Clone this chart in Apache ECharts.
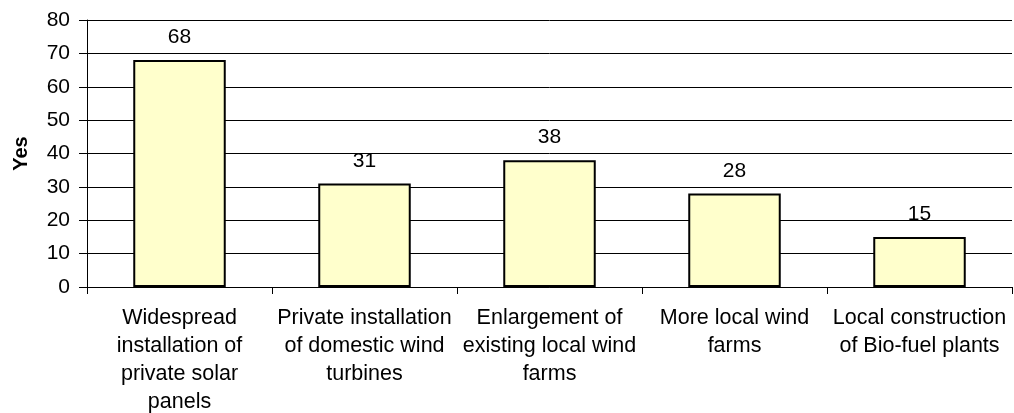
<!DOCTYPE html>
<html>
<head>
<meta charset="utf-8">
<script src="https://cdn.jsdelivr.net/npm/echarts@6/dist/echarts.min.js"></script>
<style>
html,body{margin:0;padding:0;background:#fff;}
#chart{width:1014px;height:413px;}
</style>
</head>
<body>
<div id="chart"></div>
<script>
const categories = [
  "Widespread\ninstallation of\nprivate solar\npanels",
  "Private installation\nof domestic wind\nturbines",
  "Enlargement of\nexisting local wind\nfarms",
  "More local wind\nfarms",
  "Local construction\nof Bio-fuel plants"
];
const yesValues = [68, 31, 38, 28, 15];
const yTicks = { min: 0, max: 80, interval: 10 };
const yAxisTitle = "Yes";

const FONT = "'Liberation Sans', Arial, sans-serif";
const chart = echarts.init(document.getElementById('chart'), null, { renderer: 'canvas' });
chart.setOption({
  animation: false,
  backgroundColor: '#ffffff',
  grid: { left: 87, right: 2, top: 20, bottom: 126, containLabel: false, outerBoundsMode: 'none' },
  xAxis: {
    type: 'category',
    data: categories,
    boundaryGap: true,
    axisLine: { show: true, lineStyle: { color: '#000', width: 1 } },
    axisTick: { show: true, length: 7, alignWithLabel: false, lineStyle: { color: '#000' } },
    axisLabel: {
      interval: 0, margin: 17, color: '#000', fontSize: 21.5, lineHeight: 28,
      fontFamily: FONT, align: 'center'
    },
    splitLine: { show: false }
  },
  yAxis: {
    type: 'value',
    min: yTicks.min, max: yTicks.max, interval: yTicks.interval,
    name: yAxisTitle,
    nameLocation: 'middle',
    nameGap: 56,
    nameRotate: 90,
    nameTextStyle: { fontSize: 20, fontWeight: 'bold', color: '#000', fontFamily: FONT },
    axisLine: { show: true, lineStyle: { color: '#000', width: 1 } },
    axisTick: { show: true, length: 8, lineStyle: { color: '#000' } },
    axisLabel: { margin: 17, color: '#000', fontSize: 21, fontFamily: FONT },
    splitLine: { show: true, lineStyle: { color: '#000', width: 1 } }
  },
  series: [{
    type: 'bar',
    data: yesValues,
    barWidth: '50%',
    itemStyle: { color: '#FFFFCC', borderColor: '#000', borderWidth: 2 },
    label: {
      show: true, position: 'top', distance: 12, color: '#000',
      fontSize: 21, fontFamily: FONT
    }
  }]
});
</script>
</body>
</html>
